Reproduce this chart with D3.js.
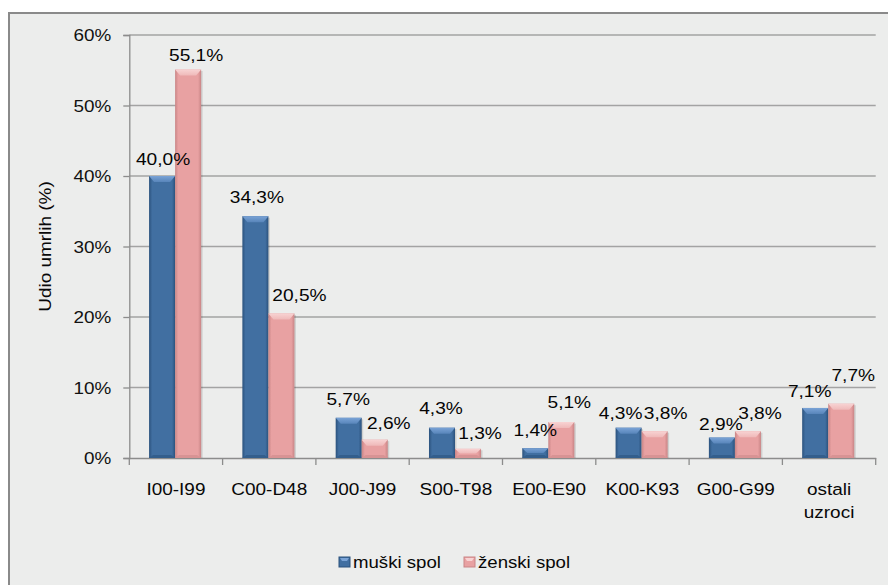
<!DOCTYPE html>
<html>
<head>
<meta charset="utf-8">
<script src="https://cdn.jsdelivr.net/npm/d3@7"></script>
<style>
  html, body { margin: 0; padding: 0; background: #ffffff; }
  svg { display: block; font-family: "Liberation Sans", Arial, sans-serif; }
</style>
</head>
<body>
<svg id="chart" width="888" height="585"></svg>
<script>
// Udio umrlih po skupinama uzroka smrti, prema spolu
const categories = ["I00-I99", "C00-D48", "J00-J99", "S00-T98", "E00-E90", "K00-K93", "G00-G99", "ostali uzroci"];
const seriesNames = ["muški spol", "ženski spol"];
const muski = [40.0, 34.3, 5.7, 4.3, 1.4, 4.3, 2.9, 7.1];
const zenski = [55.1, 20.5, 2.6, 1.3, 5.1, 3.8, 3.8, 7.7];
const yTicks = [0, 10, 20, 30, 40, 50, 60];
const yTitle = "Udio umrlih (%)";

// hand-placed label nudges (dx from bar centre, gap above bar top)
const labelNudge = [
  [[1, 17.5], [8, 15]],
  [[1.5, 19], [18, 18.5]],
  [[-0.5, 19], [14, 17]],
  [[-1, 19.5], [12, 16]],
  [[0, 18], [8, 20.5]],
  [[-8, 15], [11, 18.5]],
  [[-1, 14], [12, 18.5]],
  [[-5.5, 17.5], [12, 29.5]]
];

const svg = d3.select("#chart");
const W = 888, H = 585;

// frame
svg.append("rect").attr("x", 8).attr("y", 12).attr("width", W - 8).attr("height", H - 12)
  .attr("fill", "#ecedec");
svg.append("path").attr("d", `M9,${H} V13 H${W}`).attr("fill", "none")
  .attr("stroke", "#8a8a8a").attr("stroke-width", 2);

const plot = { left: 129.3, right: 875.7, top: 35, bottom: 458 };

const x0 = d3.scaleBand().domain(categories).range([plot.left, plot.right]).padding(0);
const bw = x0.bandwidth();
const x1 = d3.scaleBand().domain(seriesNames).range([bw * 0.212, bw * 0.77]).padding(0);
const y = d3.scaleLinear().domain([0, 60]).range([plot.bottom, plot.top]);

// stretched text helper
function stext(g, x, yy, str, size, sx, anchor) {
  return g.append("text")
    .attr("transform", `translate(${x},${yy}) scale(${sx},1)`)
    .attr("text-anchor", anchor)
    .attr("font-size", size)
    .attr("fill", "#111")
    .text(str);
}

// gridlines
svg.append("g").selectAll("line").data(yTicks.filter(t => t > 0)).join("line")
  .attr("x1", plot.left).attr("x2", plot.right)
  .attr("y1", d => y(d)).attr("y2", d => y(d))
  .attr("stroke", "#a3a3a3").attr("stroke-width", 1.3);

// y axis
const yAxis = d3.axisLeft(y).tickValues(yTicks).tickSize(6).tickFormat(d => d + "%");
const gy = svg.append("g").attr("transform", `translate(${plot.left},0)`).call(yAxis);
gy.select(".domain").attr("stroke", "#8c8c8c").attr("stroke-width", 1.3);
gy.selectAll(".tick line").attr("stroke", "#8c8c8c").attr("stroke-width", 1.3);
gy.selectAll(".tick text").remove();
gy.selectAll(".tick").each(function (d) {
  stext(d3.select(this), -18, 5.8, d + "%", 16, 1.18, "end").attr("fill", "#111");
});

// x axis
const xAxis = d3.axisBottom(x0).tickSize(0).tickFormat("");
const gx = svg.append("g").attr("transform", `translate(0,${plot.bottom})`).call(xAxis);
gx.select(".domain").attr("stroke", "#8c8c8c").attr("stroke-width", 1.3);
const bounds = categories.map(c => x0(c)).concat([plot.right]);
gx.selectAll("line.sep").data(bounds).join("line").attr("class", "sep")
  .attr("x1", d => d).attr("x2", d => d).attr("y1", 0).attr("y2", 7)
  .attr("stroke", "#8c8c8c").attr("stroke-width", 1.3);
categories.forEach(c => {
  const cx = x0(c) + bw / 2;
  const lines = c === "ostali uzroci" ? ["ostali", "uzroci"] : [c];
  lines.forEach((ln, i) => {
    stext(gx, cx, 37 + i * 22.8, ln, 17.4, 1.09, "middle").attr("fill", "#080808");
  });
});

// y title
svg.append("text")
  .attr("transform", `translate(51,246.5) rotate(-90) scale(1.2,1)`)
  .attr("text-anchor", "middle").attr("font-size", 15.8).attr("fill", "#080808")
  .text(yTitle);

// bar gradients
const defs = svg.append("defs");
const palette = {
  "muški spol": { edge: "#2b527d", mid: "#416fa1", top: "#7aa3d6", topEdge: "#5885ba", bottom: "#335e8c" },
  "ženski spol": { edge: "#c98586", mid: "#e8a1a2", top: "#f8d3d3", topEdge: "#efb9b9", bottom: "#d89394" }
};
seriesNames.forEach((s, i) => {
  const p = palette[s];
  const g = defs.append("linearGradient").attr("id", "body" + i).attr("x1", 0).attr("x2", 1).attr("y1", 0).attr("y2", 0);
  g.append("stop").attr("offset", "0%").attr("stop-color", p.edge);
  g.append("stop").attr("offset", "12%").attr("stop-color", p.mid);
  g.append("stop").attr("offset", "88%").attr("stop-color", p.mid);
  g.append("stop").attr("offset", "100%").attr("stop-color", p.edge);
  const t = defs.append("linearGradient").attr("id", "top" + i).attr("x1", 0).attr("x2", 0).attr("y1", 0).attr("y2", 1);
  t.append("stop").attr("offset", "0%").attr("stop-color", p.top);
  t.append("stop").attr("offset", "100%").attr("stop-color", p.topEdge);
});

const rows = categories.map((c, i) => ({ c, i, vals: [muski[i], zenski[i]] }));

const barLayer = svg.append("g");
const labelLayer = svg.append("g");

rows.forEach(row => {
  const g = barLayer.append("g").attr("transform", `translate(${x0(row.c)},0)`);
  const lg = labelLayer.append("g").attr("transform", `translate(${x0(row.c)},0)`);
  row.vals.forEach((v, si) => {
    const s = seriesNames[si];
    const p = palette[s];
    const bx = x1(s), w = x1.bandwidth();
    const top = y(v), h = y(0) - y(v);
    // soft shadow
    g.append("rect").attr("x", bx + 1.5).attr("y", top + 1.5).attr("width", w).attr("height", h - 1.5)
      .attr("fill", "#000").attr("opacity", 0.12);
    // body
    g.append("rect").attr("x", bx).attr("y", top).attr("width", w).attr("height", h)
      .attr("fill", `url(#body${si})`);
    // top bevel
    const bv = Math.min(6, h / 2);
    g.append("path")
      .attr("d", `M${bx},${top} H${bx + w} L${bx + w - 5},${top + bv} H${bx + 5} Z`)
      .attr("fill", `url(#top${si})`);
    // bottom bevel
    const bb = Math.min(3, h / 3);
    g.append("path")
      .attr("d", `M${bx},${y(0)} H${bx + w} L${bx + w - 4},${y(0) - bb} H${bx + 4} Z`)
      .attr("fill", p.bottom);
    // value label, drawn above all bars
    const [dx, gap] = labelNudge[row.i][si];
    stext(lg, bx + w / 2 + dx, top - gap + 6.3, d3.format(".1f")(v).replace(".", ",") + "%", 17.4, 1.1, "middle")
      .attr("fill", "#050505");
  });
});

// legend
const legend = svg.append("g");
const legendPos = [339, 464];
seriesNames.forEach((s, i) => {
  const p = palette[s];
  const lx = legendPos[i];
  legend.append("rect").attr("x", lx).attr("y", 557).attr("width", 11).attr("height", 10)
    .attr("fill", p.mid).attr("stroke", p.edge).attr("stroke-width", 1);
  legend.append("path").attr("d", `M${lx + 1},${558} H${lx + 10} L${lx + 8},${561} H${lx + 3} Z`).attr("fill", p.top);
  stext(legend, lx + 14, 567.5, s, 16.2, 1.15, "start").attr("fill", "#080808");
});
</script>
</body>
</html>
